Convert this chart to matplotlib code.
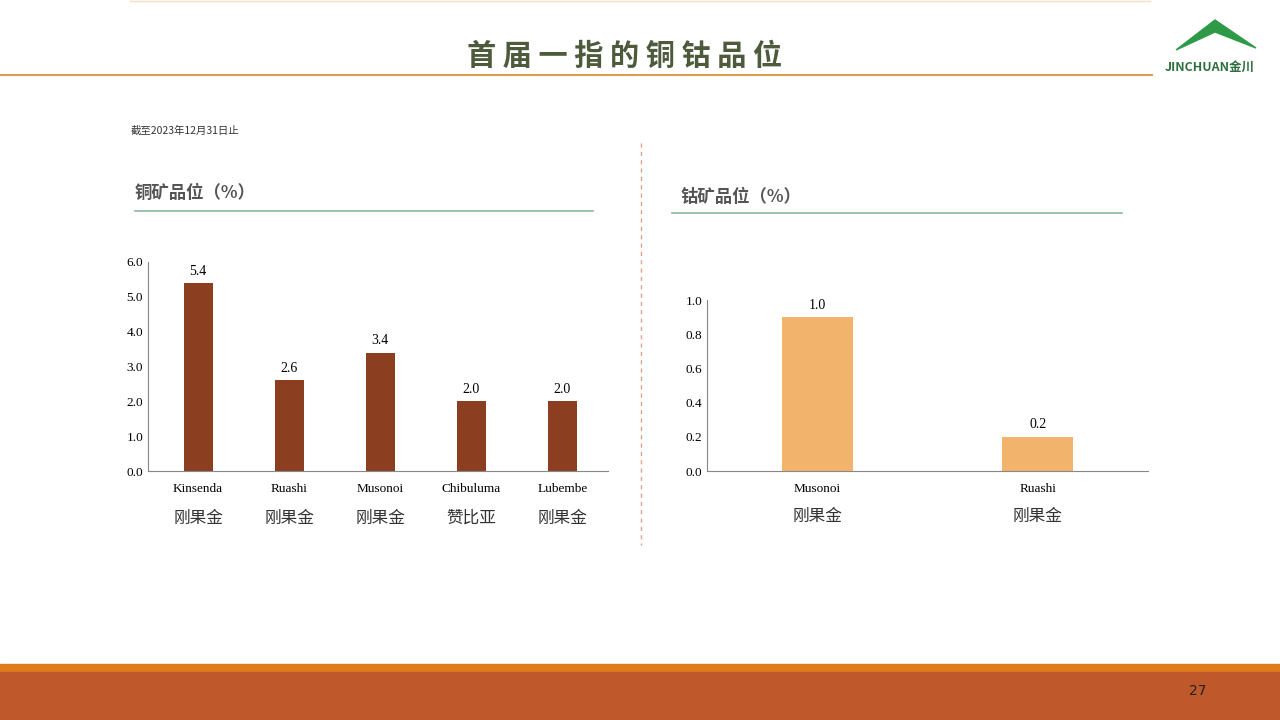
import matplotlib
matplotlib.use("Agg")
import matplotlib.pyplot as plt
from matplotlib.lines import Line2D
from matplotlib.patches import Rectangle, Polygon

cu_mines = ["Kinsenda", "Ruashi", "Musonoi", "Chibuluma", "Lubembe"]
cu_countries = ["刚果金", "刚果金", "刚果金", "赞比亚", "刚果金"]
cu_grade = [5.4, 2.6, 3.4, 2.0, 2.0]
cu_labels = ["5.4", "2.6", "3.4", "2.0", "2.0"]
co_mines = ["Musonoi", "Ruashi"]
co_countries = ["刚果金", "刚果金"]
co_grade = [0.9, 0.2]
co_labels = ["1.0", "0.2"]

CJK = "Noto Sans CJK SC"
SERIF = "Liberation Serif"
W, H = 1280, 720
fig = plt.figure(figsize=(12.8, 7.2), dpi=100)
fig.patch.set_facecolor("white")

def fx(x): return x / W
def fy(y): return 1 - y / H

def hline(x0, x1, y, color, lw=1.0, ls="-"):
    fig.add_artist(Line2D([fx(x0), fx(x1)], [fy(y), fy(y)], color=color, lw=lw, ls=ls))

# header
hline(130, 1150, 1, "#f6dcc0", 1.0)
hline(0, 1152, 75, "#e39a4e", 1.5)
fig.text(fx(625), fy(56), "首 届 一 指 的 铜 钴 品 位", fontfamily=CJK, fontsize=21, fontweight="bold",
         color="#4d5b3c", ha="center", va="center")
fig.add_artist(Polygon([[fx(1176), fy(50)], [fx(1215), fy(20)], [fx(1256), fy(48)], [fx(1215), fy(32)]],
                       closed=True, color="#2e9a48"))
fig.text(fx(1210), fy(67), "JINCHUAN金川", fontfamily=CJK, fontsize=9, fontweight="bold",
         color="#2f6e3e", ha="center", va="center")

# footer
fig.add_artist(Rectangle((0, fy(672)), 1, fy(664) - fy(672), color="#e07b1a"))
fig.add_artist(Rectangle((0, 0), 1, fy(672), color="#bf582a"))
fig.text(fx(1198), fy(691), "27", fontsize=10, color="#222222", ha="center", va="center")

fig.text(fx(131), fy(131), "截至2023年12月31日止", fontfamily=CJK, fontsize=7.5, color="#333333", va="center")

# dashed divider
fig.add_artist(Line2D([fx(641), fx(641)], [fy(143), fy(545)], color="#e8a088", lw=1, ls=(0, (3, 3))))

# subtitles
fig.text(fx(135), fy(193), "铜矿品位（%）", fontfamily=CJK, fontsize=12.5, fontweight="bold", color="#555555", va="center")
hline(135, 593, 211, "#8ab89e", 1.2)
fig.text(fx(680), fy(197), "钴矿品位（%）", fontfamily=CJK, fontsize=12.5, fontweight="bold", color="#555555", va="center")
hline(672, 1122, 213, "#8ab89e", 1.2)

def style(ax):
    for s in ["top", "right"]:
        ax.spines[s].set_visible(False)
    ax.spines["left"].set_color("#888888")
    ax.spines["bottom"].set_color("#888888")
    ax.tick_params(length=0, labelsize=9.5)
    ax.tick_params(axis="x", pad=9)
    for t in ax.get_xticklabels() + ax.get_yticklabels():
        t.set_fontfamily(SERIF)

# copper
ax1 = fig.add_axes([fx(148), fy(471), fx(608) - fx(148), fy(262) - fy(471)])
x1 = list(range(len(cu_mines)))
ax1.bar(x1, cu_grade, width=0.32, color="#8b3f20")
ax1.set_ylim(0, 6.0)
ax1.set_xlim(-0.55, len(cu_mines) - 0.5)
ax1.set_yticks([0, 1, 2, 3, 4, 5, 6])
ax1.set_yticklabels([f"{v:.1f}" for v in [0, 1, 2, 3, 4, 5, 6]])
ax1.set_xticks(x1)
ax1.set_xticklabels(cu_mines)
style(ax1)
for xi, v, l in zip(x1, cu_grade, cu_labels):
    ax1.annotate(l, (xi, v), xytext=(0, 6), textcoords="offset points", ha="center",
                 fontfamily=SERIF, fontsize=10)
for xi, c in zip(x1, cu_countries):
    ax1.annotate(c, (xi, 0), xycoords=("data", "axes fraction"), xytext=(0, -34),
                 textcoords="offset points", ha="center", va="center", fontfamily=CJK, fontsize=12, color="#333333")

# cobalt
ax2 = fig.add_axes([fx(707), fy(471), fx(1148) - fx(707), fy(300) - fy(471)])
x2 = list(range(len(co_mines)))
ax2.bar(x2, co_grade, width=0.32, color="#f2b36d")
ax2.set_ylim(0, 1.0)
ax2.set_xlim(-0.5, len(co_mines) - 0.5)
ax2.set_yticks([0, 0.2, 0.4, 0.6, 0.8, 1.0])
ax2.set_yticklabels([f"{v:.1f}" for v in [0, 0.2, 0.4, 0.6, 0.8, 1.0]])
ax2.set_xticks(x2)
ax2.set_xticklabels(co_mines)
style(ax2)
for xi, v, l in zip(x2, co_grade, co_labels):
    ax2.annotate(l, (xi, v), xytext=(0, 6), textcoords="offset points", ha="center",
                 fontfamily=SERIF, fontsize=10)
for xi, c in zip(x2, co_countries):
    ax2.annotate(c, (xi, 0), xycoords=("data", "axes fraction"), xytext=(0, -33),
                 textcoords="offset points", ha="center", va="center", fontfamily=CJK, fontsize=12, color="#333333")

fig.savefig("out.png", dpi=100, facecolor="white")
